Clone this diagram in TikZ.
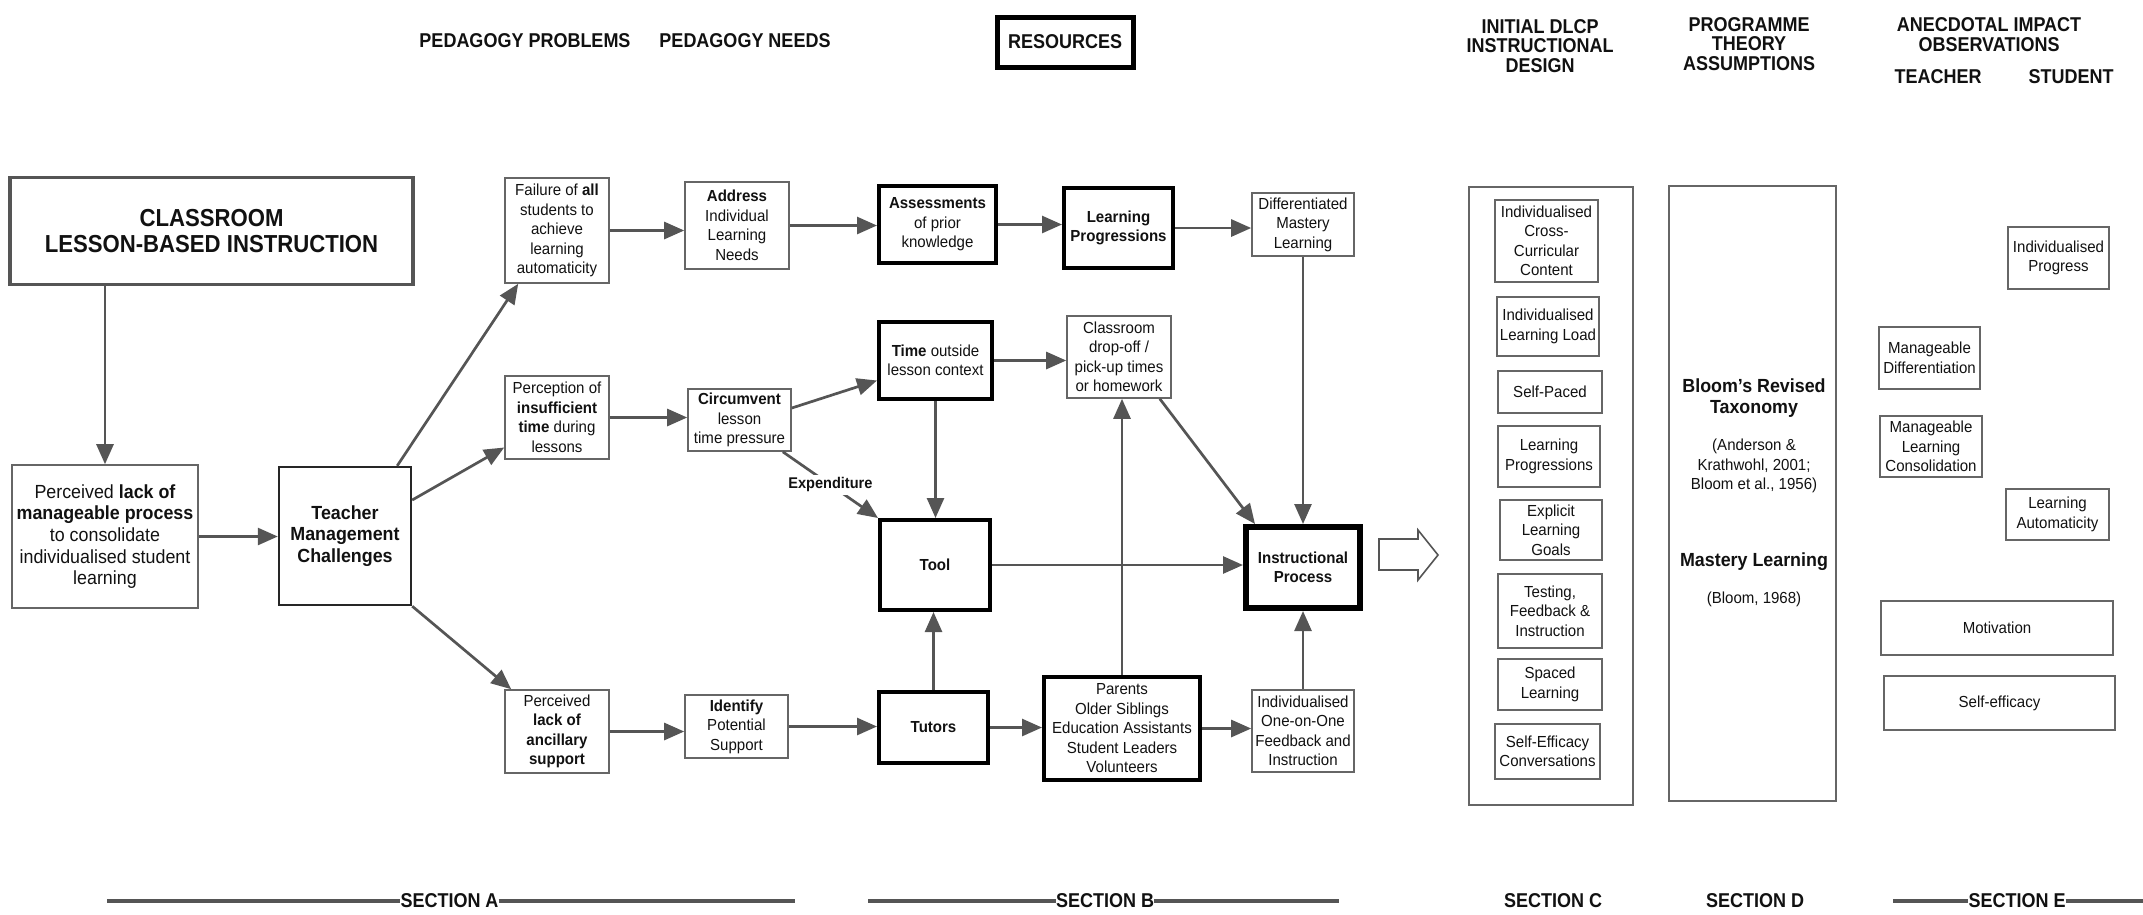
\documentclass[tikz,border=0pt]{standalone}
\usepackage{fontspec}
\setmainfont[FakeStretch=0.94]{Liberation Sans}
\newfontfamily\hdr[FakeStretch=0.9]{Liberation Sans}
\usetikzlibrary{arrows.meta,calc}

\definecolor{ln}{HTML}{555555}
\definecolor{bd}{HTML}{666666}
\definecolor{tx}{HTML}{111111}

\tikzset{
  base/.style={align=center, inner sep=0pt, text=tx, font=\fontsize{16}{19.5}\selectfont},
  thinbox/.style={base, draw=bd, line width=1.6pt},
  boldbox/.style={base, draw=black, line width=4pt},
  heavybox/.style={base, draw=black, line width=6pt},
  conn/.style={draw=ln, line width=2.7pt, -{Triangle[length=20pt,width=17pt]}},
  hdrtext/.style={align=center, inner sep=0pt, text=tx, font=\hdr\bfseries\fontsize{20}{19.5}\selectfont},
  secline/.style={draw=ln, line width=3.5pt},
  expl/.style={fill=white, inner sep=3pt, text=tx, font=\bfseries\fontsize{15.5}{19}\selectfont},
}

\begin{document}
\begin{tikzpicture}[x=1pt,y=-1pt]
\useasboundingbox (0,0) rectangle (2143,914);

% column headings
\node[hdrtext] (hpp) at (525,41) {PEDAGOGY PROBLEMS};
\node[hdrtext] (hpn) at (745,41) {PEDAGOGY NEEDS};
\node[hdrtext, draw=black, line width=5pt, minimum width=136, minimum height=50] (hres) at (1065,42) {RESOURCES};
\node[hdrtext] (hdes) at (1540,46) {INITIAL DLCP\\INSTRUCTIONAL\\DESIGN};
\node[hdrtext] (hthe) at (1749,44) {PROGRAMME\\THEORY\\ASSUMPTIONS};
\node[hdrtext] (hobs) at (1989,34.5) {ANECDOTAL IMPACT\\OBSERVATIONS};
\node[hdrtext] (htea) at (1938,77) {TEACHER};
\node[hdrtext] (hstu) at (2071,77) {STUDENT};

% section A
\node[base, draw=ln, line width=3.5pt, minimum width=403, minimum height=107,
      font=\hdr\bfseries\fontsize{24.6}{26}\selectfont] (cls) at (211.5,231)
      {CLASSROOM\\LESSON-BASED INSTRUCTION};
\node[thinbox, minimum width=186, minimum height=143, font=\fontsize{19}{21.7}\selectfont] (perc) at (105,536.5)
      {Perceived \textbf{lack of}\\\textbf{manageable process}\\to consolidate\\individualised student\\learning};
\node[thinbox, draw=black!85, line width=2.4pt, minimum width=132, minimum height=138,
      font=\bfseries\fontsize{19}{21.7}\selectfont] (tmc) at (345,536) {Teacher\\Management\\Challenges};

\node[thinbox, minimum width=104, minimum height=105] (fail) at (557,230.5)
      {Failure of \textbf{all}\\students to\\achieve\\learning\\automaticity};
\node[thinbox, minimum width=104, minimum height=83] (pins) at (557,417.5)
      {Perception of\\\textbf{insufficient}\\\textbf{time} during\\lessons};
\node[thinbox, minimum width=104, minimum height=83] (panc) at (557,731.5)
      {Perceived\\\textbf{lack of}\\\textbf{ancillary}\\\textbf{support}};

\node[thinbox, minimum width=104, minimum height=87] (addr) at (737,225.5)
      {\textbf{Address}\\Individual\\Learning\\Needs};
\node[thinbox, minimum width=103, minimum height=62] (circ) at (739.5,420)
      {\textbf{Circumvent}\\lesson\\time pressure};
\node[thinbox, minimum width=103, minimum height=63] (iden) at (736.5,726.5)
      {\textbf{Identify}\\Potential\\Support};

% section B
\node[boldbox, minimum width=117, minimum height=77] (assess) at (937.5,224.5)
      {\textbf{Assessments}\\of prior\\knowledge};
\node[boldbox, minimum width=113, minimum height=77] (time) at (935.5,360.5)
      {\textbf{Time} outside\\lesson context};
\node[boldbox, minimum width=110, minimum height=90, font=\bfseries\fontsize{16}{19.5}\selectfont] (tool) at (935,565) {Tool};
\node[boldbox, minimum width=109, minimum height=71, font=\bfseries\fontsize{16}{19.5}\selectfont] (tut) at (933.5,727.5) {Tutors};
\node[boldbox, minimum width=109, minimum height=80, font=\bfseries\fontsize{16}{19.5}\selectfont] (lp) at (1118.5,228)
      {Learning\\Progressions};
\node[thinbox, minimum width=104, minimum height=82] (drop) at (1119,357)
      {Classroom\\drop-off /\\pick-up times\\or homework};
\node[boldbox, minimum width=156, minimum height=103] (par) at (1122,728.5)
      {Parents\\Older Siblings\\Education Assistants\\Student Leaders\\Volunteers};
\node[thinbox, minimum width=102, minimum height=63] (dml) at (1303,224.5)
      {Differentiated\\Mastery\\Learning};
\node[heavybox, minimum width=114, minimum height=81, font=\bfseries\fontsize{16}{19.5}\selectfont] (ip) at (1303,567.5)
      {Instructional\\Process};
\node[thinbox, minimum width=102, minimum height=82] (one) at (1303,731)
      {Individualised\\One-on-One\\Feedback and\\Instruction};

% connectors
\draw[conn] (perc.north |- cls.south) -- (perc.north);
\draw[conn] (perc.east) -- (perc.east -| tmc.west);
\draw[conn] ($(tmc.north east)+(-15,0)$) -- ($(fail.south west)+(14,0)$);
\draw[conn] ($(tmc.east)+(0,-36)$) -- ($(pins.west)+(0,30)$);
\draw[conn] (tmc.south east) -- ($(panc.north west)+(7,0)$);
\draw[conn] (fail.east) -- (fail.east -| addr.west);
\draw[conn] (addr.east) -- (addr.east -| assess.west);
\draw[conn] (assess.east) -- (assess.east -| lp.west);
\draw[conn] (lp.east) -- (lp.east -| dml.west);
\draw[conn] (pins.east) -- (pins.east -| circ.west);
\draw[conn] ($(circ.east)+(0,-12)$) -- ($(time.west)+(0,20)$);
\draw[conn] ($(circ.south east)+(-9,0)$) -- node[expl] (expd) {Expenditure} (tool.north west);
\draw[conn] (time.south) -- (time.south |- tool.north);
\draw[conn] (tut.north) -- (tut.north |- tool.south);
\draw[conn] (panc.east) -- (panc.east -| iden.west);
\draw[conn] (iden.east) -- (iden.east -| tut.west);
\draw[conn] (tut.east) -- (tut.east -| par.west);
\draw[conn] (time.east) -- (time.east -| drop.west);
\draw[conn] (par.north) -- (par.north |- drop.south);
\draw[conn] ($(drop.south east)+(-12,0)$) -- ($(ip.north west)+(12,0)$);
\draw[conn] (dml.south) -- (dml.south |- ip.north);
\draw[conn] (tool.east) -- (tool.east -| ip.west);
\draw[conn] (par.east) -- (par.east -| one.west);
\draw[conn] (one.north) -- (one.north |- ip.south);

% hollow block arrow towards the design column
\draw[draw=ln, line width=1.6pt, fill=white]
  (1379,539) -- (1418,539) -- (1418,530) -- (1438,555) -- (1418,580) -- (1418,570) -- (1379,570) -- cycle;

% section C
\node[thinbox, minimum width=164, minimum height=618] (ccol) at (1551,496) {};
\node[thinbox, minimum width=103, minimum height=82] (c1) at (1546.5,241) {Individualised\\Cross-\\Curricular\\Content};
\node[thinbox, minimum width=102, minimum height=59] (c2) at (1548,326.5) {Individualised\\Learning Load};
\node[thinbox, minimum width=104, minimum height=42] (c3) at (1550,392) {Self-Paced};
\node[thinbox, minimum width=102, minimum height=61] (c4) at (1549,456.5) {Learning\\Progressions};
\node[thinbox, minimum width=102, minimum height=60] (c5) at (1551,530) {Explicit\\Learning\\Goals};
\node[thinbox, minimum width=104, minimum height=74] (c6) at (1550,611) {Testing,\\Feedback \&\\Instruction};
\node[thinbox, minimum width=104, minimum height=51] (c7) at (1550,684.5) {Spaced\\Learning};
\node[thinbox, minimum width=105, minimum height=55] (c8) at (1547.5,751.5) {Self-Efficacy\\Conversations};

% section D
\node[thinbox, minimum width=167, minimum height=615] (dcol) at (1752.5,493.5) {};
\node[base, font=\bfseries\fontsize{19}{21.5}\selectfont] (brt) at (1754,398) {Bloom's Revised\\Taxonomy};
\node[base] (brtref) at (1754,466) {(Anderson \&\\Krathwohl, 2001;\\Bloom et al., 1956)};
\node[base, font=\bfseries\fontsize{19}{21.5}\selectfont] (ml) at (1754,562) {Mastery Learning};
\node[base] (mlref) at (1754,599) {(Bloom, 1968)};

% section E
\node[thinbox, minimum width=101, minimum height=62] (e1) at (2058.5,258) {Individualised\\Progress};
\node[thinbox, minimum width=101, minimum height=62] (e2) at (1929.5,358) {Manageable\\Differentiation};
\node[thinbox, minimum width=102, minimum height=61] (e3) at (1931,446.5) {Manageable\\Learning\\Consolidation};
\node[thinbox, minimum width=103, minimum height=51] (e4) at (2057.5,514.5) {Learning\\Automaticity};
\node[thinbox, minimum width=232, minimum height=54] (e5) at (1997,628) {Motivation};
\node[thinbox, minimum width=231, minimum height=54] (e6) at (1999.5,703) {Self-efficacy};

% section labels
\node[hdrtext] (sa) at (449.5,901) {SECTION A};
\node[hdrtext] (sb) at (1105,901) {SECTION B};
\node[hdrtext] (sc) at (1553,901) {SECTION C};
\node[hdrtext] (sd) at (1755,901) {SECTION D};
\node[hdrtext] (se) at (2017,901) {SECTION E};
\coordinate (saL) at (107,901);
\coordinate (saR) at (795,901);
\coordinate (sbL) at (868,901);
\coordinate (sbR) at (1339,901);
\coordinate (seL) at (1893,901);
\coordinate (seR) at (2143,901);
\draw[secline] (saL) -- (sa.west);
\draw[secline] (sa.east) -- (saR);
\draw[secline] (sbL) -- (sb.west);
\draw[secline] (sb.east) -- (sbR);
\draw[secline] (seL) -- (se.west);
\draw[secline] (se.east) -- (seR);
\end{tikzpicture}
\end{document}
